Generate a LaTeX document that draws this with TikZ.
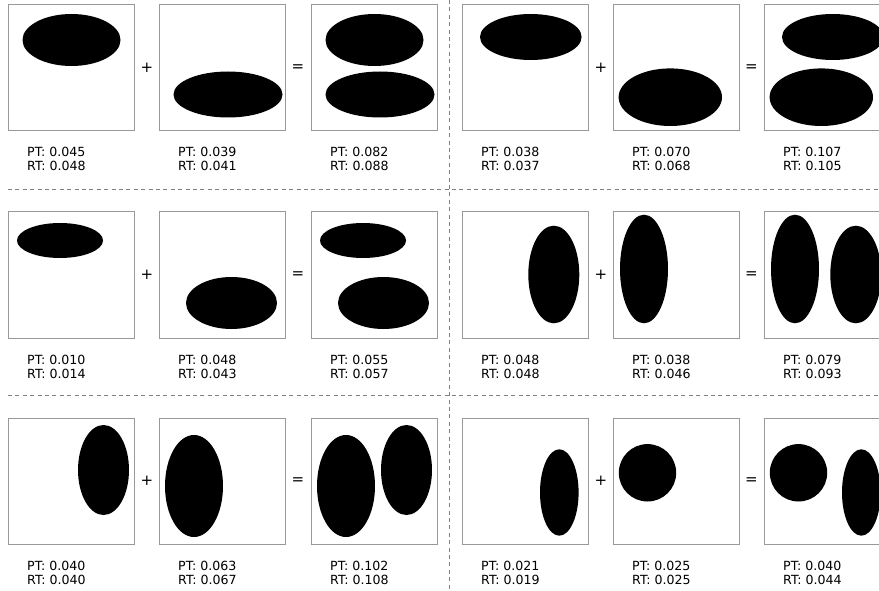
\documentclass[tikz,border=0pt]{standalone}
\usepackage{fontspec}
\setmainfont{DejaVu Sans}
\definecolor{boxgray}{HTML}{999999}
\definecolor{sepgray}{HTML}{808080}
\tikzset{
  panelbox/.style={draw=boxgray, line width=1pt, fill=white},
  blob/.style={fill=black},
  sepline/.style={draw=sepgray, line width=1pt, dash pattern=on 4pt off 3.4pt},
  score/.style={anchor=base west, font=\fontsize{12.6}{14}\selectfont, inner sep=0pt},
  op/.style={font=\fontsize{15}{16}\selectfont, inner sep=0pt}
}
% panel: name, x, y, PT, RT
\newcommand\mypanel[5]{%
  \draw[panelbox] (#2,#3) rectangle ++(126,126);
  \node[score] (#1pt) at ($(#2,#3)+(19,152)$) {PT: #4};
  \node[score] (#1rt) at ($(#2,#3)+(19,166)$) {RT: #5};
}
% blob: box x, box y, rel cx, rel cy, rx, ry
\newcommand\myblob[6]{%
  \fill[blob] ($(#1,#2)+(#3,#4)$) ellipse [x radius=#5pt, y radius=#6pt];
}
\usetikzlibrary{calc}
\begin{document}
\begin{tikzpicture}[x=1pt,y=-1pt]
\useasboundingbox (0,0) rectangle (879,591);
\clip (0,0) rectangle (879,591);
\fill[white] (0,0) rectangle (879,591);

% separators
\draw[sepline] (8,190) -- (879,190);
\draw[sepline] (8,395) -- (879,395);
\draw[sepline] (449,0) -- (449,591);

% ---------- row 1 ----------
\mypanel{aa}{8}{5}{0.045}{0.048}
\mypanel{ab}{159}{5}{0.039}{0.041}
\mypanel{ac}{311}{5}{0.082}{0.088}
\mypanel{ad}{462}{5}{0.038}{0.037}
\mypanel{ae}{613}{5}{0.070}{0.068}
\mypanel{af}{764}{5}{0.107}{0.105}
\myblob{8}{5}{63.5}{35}{49}{26}
\myblob{159}{5}{69}{89.5}{54.5}{23}
\myblob{311}{5}{63.5}{35}{49}{26}
\myblob{311}{5}{69}{89.5}{54.5}{23}
\myblob{462}{5}{68.8}{32}{50.8}{23}
\myblob{613}{5}{57.3}{92.2}{51.7}{28.8}
\myblob{764}{5}{68.8}{32}{50.8}{23}
\myblob{764}{5}{57.3}{92.2}{51.7}{28.8}
\node[op] (p1) at (147,68) {+};
\node[op] (e1) at (298,68) {=};
\node[op] (p2) at (601,68) {+};
\node[op] (e2) at (751.5,68) {=};

% ---------- row 2 ----------
\mypanel{ba}{8}{212}{0.010}{0.014}
\mypanel{bb}{159}{212}{0.048}{0.043}
\mypanel{bc}{311}{212}{0.055}{0.057}
\mypanel{bd}{462}{212}{0.048}{0.048}
\mypanel{be}{613}{212}{0.038}{0.046}
\mypanel{bf}{764}{212}{0.079}{0.093}
\myblob{8}{212}{52}{28.5}{43}{17.5}
\myblob{159}{212}{72.5}{91}{45.5}{26}
\myblob{311}{212}{52}{28.5}{43}{17.5}
\myblob{311}{212}{72.5}{91}{45.5}{26}
\myblob{462}{212}{91.8}{62.5}{25.5}{48.8}
\myblob{613}{212}{31}{57}{24}{54.3}
\myblob{764}{212}{31}{57}{24}{54.3}
\myblob{764}{212}{91.8}{62.5}{25.5}{48.8}
\node[op] (p3) at (147,275) {+};
\node[op] (e3) at (298,275) {=};
\node[op] (p4) at (601,275) {+};
\node[op] (e4) at (751.5,275) {=};

% ---------- row 3 ----------
\mypanel{ca}{8}{418}{0.040}{0.040}
\mypanel{cb}{159}{418}{0.063}{0.067}
\mypanel{cc}{311}{418}{0.102}{0.108}
\mypanel{cd}{462}{418}{0.021}{0.019}
\mypanel{ce}{613}{418}{0.025}{0.025}
\mypanel{cf}{764}{418}{0.040}{0.044}
\myblob{8}{418}{95.5}{52}{25.5}{45}
\myblob{159}{418}{35}{68}{29}{51}
\myblob{311}{418}{95.5}{52}{25.5}{45}
\myblob{311}{418}{35}{68}{29}{51}
\myblob{462}{418}{97.3}{74.5}{19.3}{43.2}
\myblob{613}{418}{34.5}{54.8}{28.7}{28.7}
\myblob{764}{418}{34.5}{54.8}{28.7}{28.7}
\myblob{764}{418}{97.3}{74.5}{19.3}{43.2}
\node[op] (p5) at (147,481) {+};
\node[op] (e5) at (298,481) {=};
\node[op] (p6) at (601,481) {+};
\node[op] (e6) at (751.5,481) {=};
\end{tikzpicture}
\end{document}
